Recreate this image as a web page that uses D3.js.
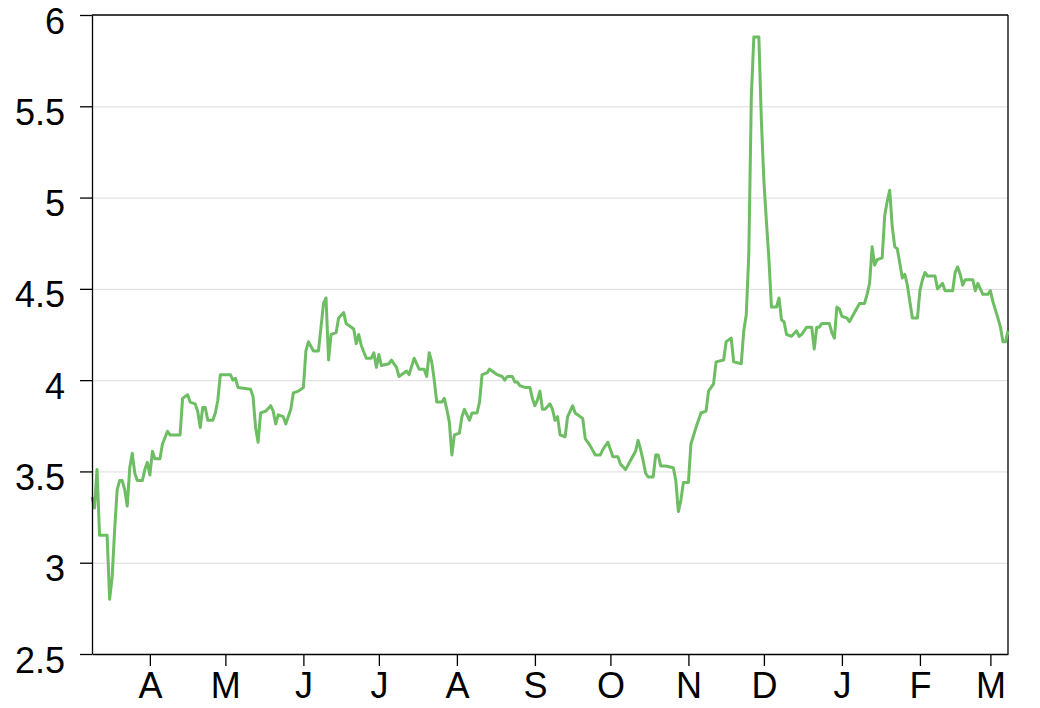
<!DOCTYPE html>
<html>
<head>
	<meta charset="utf-8">
	<title>Daily series</title>
	<script src="https://cdn.jsdelivr.net/npm/d3@7"></script>
	<style type="text/css">
		html, body {
			margin: 0;
			padding: 0;
			background: white;
		}
		svg {
			display: block;
			font-family: "Liberation Sans", Arial, Helvetica, sans-serif;
		}
		.axis text {
			font-size: 36px;
			fill: black;
		}
		.axis path, .axis line {
			stroke: black;
			stroke-width: 1.3px;
		}
		.grid line {
			stroke: #dcdcdc;
			stroke-width: 1px;
		}
	</style>
</head>
<body>

<div id="vis"></div>

<script type="text/javascript">

// one reading per line group, a month at a time
var dates = [
	"2014-03-09","2014-03-10","2014-03-11","2014-03-12","2014-03-15","2014-03-16","2014-03-17","2014-03-18","2014-03-19","2014-03-20","2014-03-21","2014-03-22","2014-03-23","2014-03-24","2014-03-25","2014-03-26","2014-03-27","2014-03-29","2014-03-30","2014-03-31",
	"2014-04-01","2014-04-02","2014-04-03","2014-04-05","2014-04-06","2014-04-08","2014-04-09","2014-04-13","2014-04-14","2014-04-16","2014-04-17","2014-04-19","2014-04-20","2014-04-21","2014-04-22","2014-04-23","2014-04-24","2014-04-26","2014-04-27","2014-04-28","2014-04-29",
	"2014-05-03","2014-05-04","2014-05-05","2014-05-06","2014-05-11","2014-05-12","2014-05-13","2014-05-14","2014-05-15","2014-05-17","2014-05-19","2014-05-20","2014-05-21","2014-05-22","2014-05-24","2014-05-25","2014-05-27","2014-05-28","2014-05-30",
	"2014-06-01","2014-06-02","2014-06-03","2014-06-05","2014-06-07","2014-06-08","2014-06-09","2014-06-10","2014-06-11","2014-06-12","2014-06-14","2014-06-15","2014-06-17","2014-06-18","2014-06-21","2014-06-22","2014-06-23","2014-06-24","2014-06-26","2014-06-28","2014-06-29","2014-06-30",
	"2014-07-01","2014-07-02","2014-07-05","2014-07-06","2014-07-08","2014-07-09","2014-07-12","2014-07-13","2014-07-15","2014-07-16","2014-07-17","2014-07-19","2014-07-20","2014-07-21","2014-07-22","2014-07-23","2014-07-24","2014-07-26","2014-07-27","2014-07-28","2014-07-29","2014-07-30","2014-07-31",
	"2014-08-02","2014-08-03","2014-08-04","2014-08-06","2014-08-07","2014-08-09","2014-08-10","2014-08-11","2014-08-13","2014-08-14","2014-08-15","2014-08-17","2014-08-19","2014-08-20","2014-08-21","2014-08-23","2014-08-24","2014-08-25","2014-08-26","2014-08-28","2014-08-30","2014-08-31",
	"2014-09-01","2014-09-02","2014-09-03","2014-09-04","2014-09-05","2014-09-07","2014-09-08","2014-09-09","2014-09-10","2014-09-11","2014-09-13","2014-09-14","2014-09-16","2014-09-17","2014-09-19","2014-09-20","2014-09-21","2014-09-23","2014-09-25","2014-09-27","2014-09-28","2014-09-30",
	"2014-10-01","2014-10-02","2014-10-04","2014-10-05","2014-10-07","2014-10-09","2014-10-11","2014-10-12","2014-10-13","2014-10-14","2014-10-15","2014-10-16","2014-10-18","2014-10-19","2014-10-20","2014-10-21","2014-10-23","2014-10-26","2014-10-27","2014-10-28","2014-10-29","2014-10-30",
	"2014-11-01","2014-11-02","2014-11-04","2014-11-06","2014-11-08","2014-11-09","2014-11-11","2014-11-12","2014-11-15","2014-11-16","2014-11-18","2014-11-19","2014-11-22","2014-11-23","2014-11-24","2014-11-25","2014-11-26","2014-11-27","2014-11-29","2014-11-30",
	"2014-12-01","2014-12-02","2014-12-03","2014-12-04","2014-12-06","2014-12-07","2014-12-08","2014-12-09","2014-12-10","2014-12-12","2014-12-14","2014-12-15","2014-12-16","2014-12-18","2014-12-20","2014-12-21","2014-12-22","2014-12-23","2014-12-24","2014-12-27","2014-12-28","2014-12-29","2014-12-30","2014-12-31",
	"2015-01-01","2015-01-03","2015-01-04","2015-01-06","2015-01-08","2015-01-10","2015-01-11","2015-01-12","2015-01-13","2015-01-14","2015-01-15","2015-01-17","2015-01-18","2015-01-19","2015-01-20","2015-01-21","2015-01-22","2015-01-23","2015-01-24","2015-01-25","2015-01-26","2015-01-27","2015-01-28","2015-01-29","2015-01-31",
	"2015-02-01","2015-02-02","2015-02-03","2015-02-04","2015-02-07","2015-02-08","2015-02-10","2015-02-11","2015-02-14","2015-02-15","2015-02-16","2015-02-17","2015-02-18","2015-02-19","2015-02-22","2015-02-23","2015-02-24","2015-02-25","2015-02-26","2015-02-28",
	"2015-03-01","2015-03-02","2015-03-04","2015-03-05","2015-03-06","2015-03-07","2015-03-08"
];

var values = [
	3.36,3.30,3.51,3.15,3.15,2.80,2.92,3.18,3.40,3.45,3.45,3.40,3.31,3.52,3.60,3.49,3.45,3.45,3.51,3.55,
	3.48,3.61,3.57,3.57,3.65,3.72,3.70,3.70,3.90,3.92,3.88,3.87,3.83,3.74,3.85,3.85,3.78,3.78,3.82,3.89,4.03,
	4.03,4.00,4.01,3.96,3.95,3.91,3.74,3.66,3.82,3.83,3.86,3.83,3.76,3.81,3.80,3.76,3.84,3.93,3.94,
	3.96,4.16,4.21,4.16,4.16,4.29,4.42,4.45,4.11,4.25,4.26,4.34,4.37,4.31,4.28,4.20,4.25,4.19,4.12,4.12,4.15,4.07,
	4.14,4.08,4.09,4.11,4.07,4.02,4.05,4.03,4.12,4.09,4.06,4.06,4.02,4.15,4.10,4.00,3.88,3.88,3.90,3.84,3.77,3.59,3.70,
	3.71,3.80,3.84,3.78,3.82,3.82,3.88,4.03,4.04,4.06,4.05,4.03,4.02,4.00,4.02,4.02,3.99,3.99,3.97,3.96,3.96,3.90,
	3.86,3.89,3.94,3.84,3.84,3.87,3.84,3.78,3.80,3.70,3.69,3.80,3.86,3.82,3.80,3.79,3.68,3.64,3.59,3.59,3.62,3.66,
	3.62,3.58,3.58,3.54,3.51,3.56,3.61,3.67,3.62,3.56,3.49,3.47,3.47,3.59,3.59,3.53,3.53,3.52,3.45,3.28,3.34,3.44,
	3.44,3.65,3.74,3.82,3.83,3.94,3.98,4.10,4.11,4.21,4.23,4.10,4.09,4.27,4.36,4.69,5.55,5.88,5.88,5.42,
	5.09,4.87,4.66,4.40,4.40,4.45,4.33,4.32,4.25,4.24,4.27,4.24,4.25,4.29,4.29,4.17,4.29,4.29,4.31,4.31,4.26,4.23,4.40,4.39,
	4.35,4.34,4.32,4.37,4.42,4.42,4.47,4.53,4.73,4.63,4.66,4.67,4.90,4.98,5.04,4.84,4.73,4.72,4.64,4.56,4.58,4.52,4.43,4.34,4.34,
	4.49,4.55,4.59,4.57,4.57,4.50,4.53,4.49,4.49,4.59,4.62,4.58,4.52,4.55,4.55,4.49,4.53,4.50,4.47,4.47,
	4.49,4.43,4.34,4.29,4.21,4.21,4.27
];

var monthTicks = ["2014-04-01","2014-05-01","2014-06-01","2014-07-01","2014-08-01","2014-09-01",
	"2014-10-01","2014-11-01","2014-12-01","2015-01-01","2015-02-01","2015-03-01"];
var monthLabels = ["A","M","J","J","A","S","O","N","D","J","F","M"];

var yTicks = [2.5, 3, 3.5, 4, 4.5, 5, 5.5, 6];
var yLabels = ["2.5","3","3.5","4","4.5","5","5.5","6"];

var width = 1040;
var height = 708;
var margin = {top: 15, right: 32, bottom: 54, left: 92};
var innerW = width - margin.left - margin.right;
var innerH = height - margin.top - margin.bottom;

var parse = d3.timeParse("%Y-%m-%d");

var data = dates.map(function(d, i) {
	return {date: parse(d), value: values[i]};
});

var x = d3.scaleTime()
	.domain([parse("2014-03-09"), parse("2015-03-08")])
	.range([0, innerW]);

var y = d3.scaleLinear()
	.domain([2.5, 6])
	.range([innerH, 0]);

var svg = d3.select("#vis").append("svg")
	.attr("width", width)
	.attr("height", height);

var g = svg.append("g")
	.attr("transform", "translate(" + margin.left + "," + margin.top + ")");

// horizontal grid
g.append("g")
	.attr("class", "grid")
	.selectAll("line")
	.data(yTicks.filter(function(t) { return t > 2.5 && t < 6; }))
	.enter().append("line")
	.attr("x1", 0)
	.attr("x2", innerW)
	.attr("y1", function(d) { return y(d) + 0.5; })
	.attr("y2", function(d) { return y(d) + 0.5; });

// frame top / right
g.append("line")
	.attr("x1", 0).attr("x2", innerW)
	.attr("y1", 0).attr("y2", 0)
	.attr("stroke", "black").attr("stroke-width", 1.3);
g.append("line")
	.attr("x1", innerW).attr("x2", innerW)
	.attr("y1", 0).attr("y2", innerH)
	.attr("stroke", "black").attr("stroke-width", 1.3);

var line = d3.line()
	.x(function(d) { return x(d.date); })
	.y(function(d) { return y(d.value); });

g.append("path")
	.datum(data)
	.attr("fill", "none")
	.attr("stroke", "#6dbd63")
	.attr("stroke-width", 3)
	.attr("stroke-linejoin", "round")
	.attr("d", line);

var xAxis = d3.axisBottom(x)
	.tickValues(monthTicks.map(parse))
	.tickFormat(function(d, i) { return monthLabels[i]; })
	.tickSize(12)
	.tickSizeOuter(0)
	.tickPadding(6);

g.append("g")
	.attr("class", "axis")
	.attr("transform", "translate(0," + innerH + ")")
	.call(xAxis);

var yAxis = d3.axisLeft(y)
	.tickValues(yTicks)
	.tickFormat(function(d, i) { return yLabels[i]; })
	.tickSize(12)
	.tickSizeOuter(0)
	.tickPadding(15);

g.append("g")
	.attr("class", "axis")
	.call(yAxis)
	.selectAll("text")
	.attr("dy", "0.5em");

</script>

</body>
</html>
